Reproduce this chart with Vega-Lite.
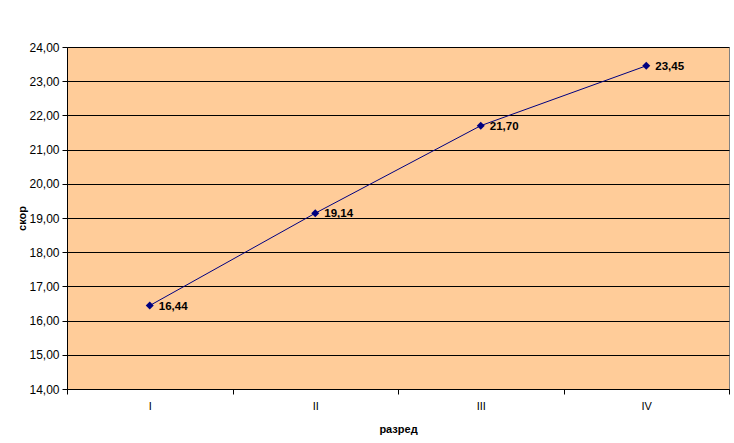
{
  "$schema": "https://vega.github.io/schema/vega-lite/v6.json",
  "width": 662,
  "height": 342,
  "autosize": {"type": "none"},
  "padding": {"left": 67, "top": 47, "right": 5, "bottom": 54},
  "background": "white",
  "data": {
    "values": [
      {"razred": "I", "skor": 16.44},
      {"razred": "II", "skor": 19.14},
      {"razred": "III", "skor": 21.70},
      {"razred": "IV", "skor": 23.45}
    ]
  },
  "encoding": {
    "x": {
      "field": "razred",
      "type": "ordinal",
      "sort": null,
      "scale": {"type": "band", "paddingInner": 0, "paddingOuter": 0},
      "axis": {
        "title": "разред",
        "labelAngle": 0,
        "tickBand": "extent",
        "tickSize": 5,
        "tickColor": "black",
        "labelPadding": 6,
        "labelFontSize": 11,
        "domainColor": "black",
        "grid": false,
        "titleFontWeight": "bold",
        "titleFontSize": 11,
        "titlePadding": 12
      }
    },
    "y": {
      "field": "skor",
      "type": "quantitative",
      "scale": {"domain": [14, 24], "nice": false, "zero": false},
      "axis": {
        "title": "скор",
        "values": [14, 15, 16, 17, 18, 19, 20, 21, 22, 23, 24],
        "labelExpr": "replace(format(datum.value, '.2f'), '.', ',')",
        "labelFontSize": 12,
        "labelPadding": 3,
        "tickSize": 5,
        "tickColor": "black",
        "domainColor": "black",
        "grid": true,
        "gridColor": "black",
        "gridOpacity": 1,
        "gridWidth": 1,
        "titleFontWeight": "bold",
        "titleFontSize": 11,
        "titleX": -45,
        "titleY": 171,
        "titleAlign": "center",
        "titleBaseline": "middle"
      }
    }
  },
  "layer": [
    {"mark": {"type": "line", "color": "#000080", "strokeWidth": 1}},
    {"mark": {"type": "point", "shape": "diamond", "filled": true, "color": "#000080", "size": 64, "opacity": 1}},
    {
      "mark": {"type": "text", "align": "left", "baseline": "middle", "dx": 9, "dy": 1, "font": "Liberation Sans", "fontWeight": "bold", "fontSize": 11.5, "color": "black"},
      "encoding": {"text": {"field": "skor", "type": "quantitative", "format": ".2f"}}
    }
  ],
  "config": {
    "locale": {"number": {"decimal": ",", "thousands": " ", "grouping": [3], "currency": ["", ""]}},
    "view": {"fill": "#FFCC99", "stroke": "#808080", "strokeWidth": 1},
    "axis": {"labelFont": "Liberation Sans", "titleFont": "Liberation Sans", "labelColor": "black", "titleColor": "black"}
  }
}
